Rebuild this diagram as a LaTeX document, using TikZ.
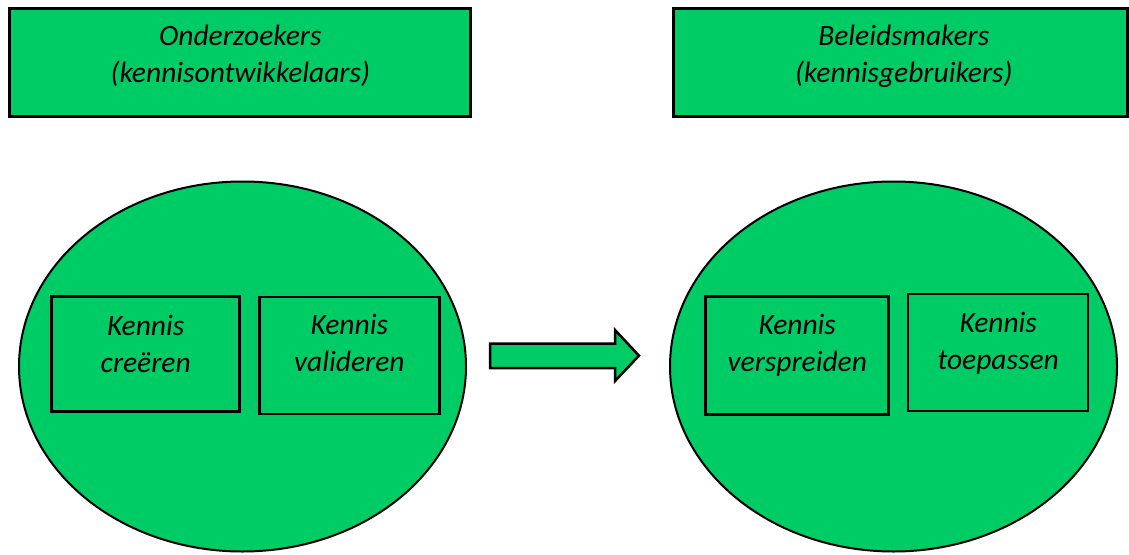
\documentclass[tikz,border=0pt]{standalone}
\usepackage{fontspec}
\setmainfont{Carlito}
\usepackage{tikz}
\usetikzlibrary{shapes.geometric}
\definecolor{kgroen}{RGB}{0,204,102}
\tikzset{
  tb/.style={rectangle, draw, fill=kgroen, line width=3pt, minimum width=#1, minimum height=108pt},
  ib/.style={rectangle, draw, fill=kgroen, line width=2.5pt, minimum width=188pt, minimum height=116pt},
  el/.style={ellipse, draw, fill=kgroen, line width=2pt, minimum width=447pt, minimum height=370pt},
  tx/.style={align=center, anchor=base, font=\fontsize{29.5pt}{37pt}\selectfont\itshape}
}

\begin{document}
\begin{tikzpicture}[x=1pt,y=-1pt]
  \useasboundingbox (0,0) rectangle (1129,554);
  \node[tb=461pt] (onderzoekers) at (240.3,62.8) {};
  \node[tb=454pt] (beleidsmakers) at (900.4,62.8) {};
  \node[tx] (t-onderzoekers) at (240.3,82.5) {Onderzoekers\\(kennisontwikkelaars)};
  \node[tx] (t-beleidsmakers) at (903.8,82.5) {Beleidsmakers\\(kennisgebruikers)};

  \node[el] (links) at (242.5,366.5) {};
  \node[el] (rechts) at (893.5,366.5) {};

  \node[ib, minimum width=188pt, minimum height=115pt] (creeren) at (145.7,354.2) {};
  \node[ib, minimum width=180pt, minimum height=117pt] (valideren) at (349.3,355.5) {};
  \node[ib, minimum width=183pt, minimum height=118pt] (verspreiden) at (797.2,355.3) {};
  \node[ib, minimum width=180pt, minimum height=117pt] (toepassen) at (998.2,352.5) {};
  \node[tx] (t-creeren) at (145.7,372.5) {Kennis\\creëren};
  \node[tx] (t-valideren) at (349.3,371.5) {Kennis\\valideren};
  \node[tx] (t-verspreiden) at (797.2,371) {Kennis\\verspreiden};
  \node[tx] (t-toepassen) at (998.2,369.5) {Kennis\\toepassen};

  \draw[fill=kgroen, line width=2.5pt, line join=miter]
    (490,343.5) -- (615,343.5) -- (615,330) -- (639,355.7) -- (615,381) -- (615,368) -- (490,368) -- cycle;
\end{tikzpicture}
\end{document}
